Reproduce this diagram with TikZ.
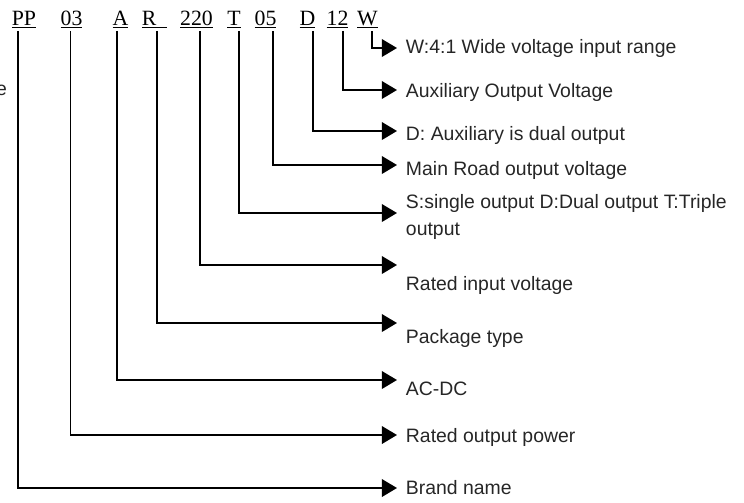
\documentclass[tikz,border=0pt]{standalone}
\usepackage{fontspec}
\setmainfont{Liberation Serif}
\setsansfont{Liberation Sans}
\usetikzlibrary{arrows.meta}

\begin{document}
\begin{tikzpicture}[x=0.025cm, y=-0.025cm, line width=1.4pt, -{Triangle[length=3.8mm, width=4.4mm]},
	code/.style={anchor=base, inner sep=0pt, font=\fontsize{15.5}{18}\selectfont},
	descr/.style={anchor=base west, inner sep=0pt, align=left, text=black!85, font=\sffamily\fontsize{13.8}{19.1}\selectfont}]
	\useasboundingbox (0,0) rectangle (744,502);
	% model code
	\node (PP) [code] at (24,25) {\underline{PP}};
	\node (power) [code] at (71.5,25) {\underline{03}};
	\node (AC) [code] at (120.5,25) {\underline{A}};
	\node (R) [code] at (154.5,25) {\underline{R\hspace{0.5em}}};
	\node (volt) [code] at (196.5,25) {\underline{220}};
	\node (T) [code] at (234,25) {\underline{T}};
	\node (main) [code] at (265.5,25) {\underline{05}};
	\node (D) [code] at (307.5,25) {\underline{D}};
	\node (aux) [code] at (337.5,25) {\underline{12}};
	\node (W) [code] at (367.5,25) {\underline{W}};
	% meanings
	\node (cut) [descr, anchor=base east] at (8,95) {e};
	\node (wide) [descr] at (405,53) {W:4:1 Wide voltage input range};
	\node (auxvolt) [descr] at (405,97) {Auxiliary Output Voltage};
	\node (dual) [descr] at (405,140) {D: Auxiliary is dual output};
	\node (mainvolt) [descr] at (405,175) {Main Road output voltage};
	\node (outputs) [descr] at (405,235) {S:single output D:Dual output T:Triple\\output};
	\node (ratedinput) [descr] at (405,290) {Rated input voltage};
	\node (package) [descr] at (405,343) {Package type};
	\node (acdc) [descr] at (405,395) {AC-DC};
	\node (ratedpower) [descr] at (405,442) {Rated output power};
	\node (brand) [descr] at (405,494) {Brand name};
	% arrow tips
	\coordinate (tipW) at (397,48);
	\coordinate (tipaux) at (397,90);
	\coordinate (tipD) at (397,131);
	\coordinate (tipmain) at (397,165);
	\coordinate (tipT) at (397,213);
	\coordinate (tipvolt) at (397,265);
	\coordinate (tipR) at (397,323);
	\coordinate (tipAC) at (397,380);
	\coordinate (tippower) at (397,435);
	\coordinate (tipPP) at (397,488);
	\draw (W.south) ++(4.5,2) |- (tipW);
	\draw (aux.south) ++(5.5,2) |- (tipaux);
	\draw (D.south) ++(5.5,2) |- (tipD);
	\draw (main.south) ++(7.5,2) |- (tipmain);
	\draw (T.south) ++(5,2) |- (tipT);
	\draw (volt.south) ++(3.5,2) |- (tipvolt);
	\draw (R.south) ++(2.5,2) |- (tipR);
	\draw (AC.south) ++(-3.5,2) |- (tipAC);
	\draw (power.south) ++(-1,2) |- (tippower);
	\draw (PP.south) ++(-6,2) |- (tipPP);
\end{tikzpicture}
\end{document}
